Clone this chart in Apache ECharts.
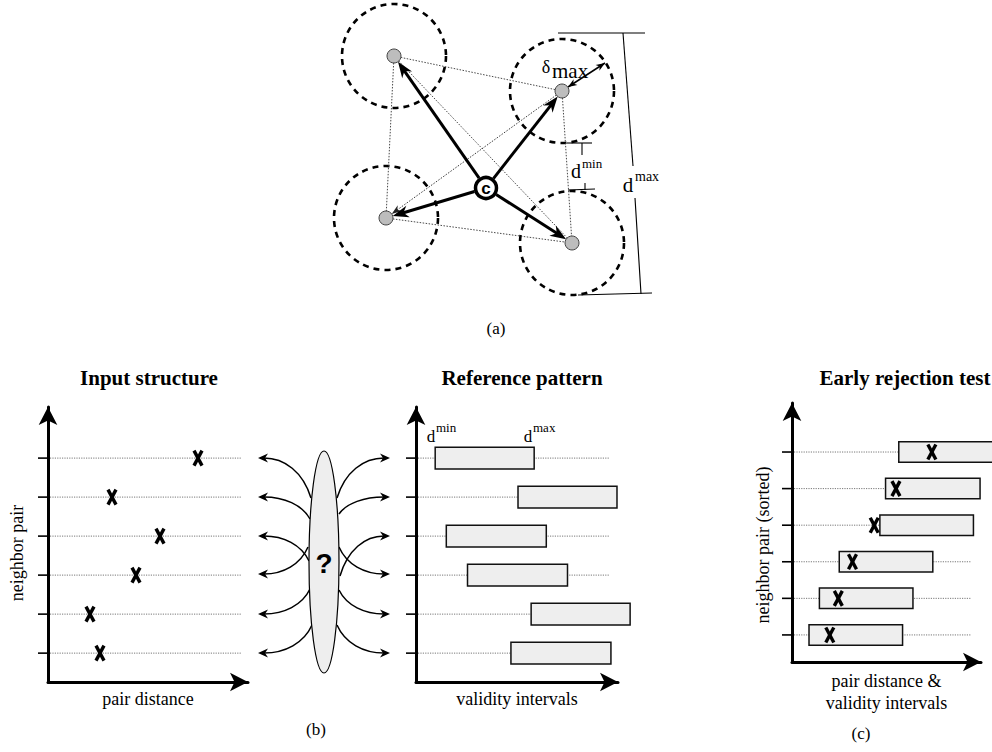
<!DOCTYPE html>
<html>
<head>
<meta charset="utf-8">
<script src="https://cdn.jsdelivr.net/npm/echarts@6/dist/echarts.min.js"></script>
<style>
  html, body { margin: 0; background: #fff; }
  #main { width: 992px; height: 752px; }
</style>
</head>
<body>
<div id="main"></div>
<script>
// (a) neighbourhood of the centre point c (page-pixel units)
const centre = [486, 188];
const neighbours = [[394, 56], [562, 91], [386, 218], [572, 243]];
const toleranceRadius = 52;
const neighbourLinks = [[0, 1], [0, 2], [0, 3], [1, 2], [2, 3], [1, 3]];
const bracketSegments = [
  [558, 33, 645, 33], [623, 33, 633, 166], [635, 198, 641, 294], [578, 295, 652, 293],
  [567, 143, 592, 143], [582, 143, 582, 155], [568, 190, 595, 189], [585, 183, 585, 190]
];
const deltaArrow = [568, 87, 605, 63];

// (b) and (c): neighbour pairs, bottom row first
const pairRows = [1, 2, 3, 4, 5, 6];
const inputDistance = [2.6, 2.1, 4.4, 5.6, 3.2, 7.5];
const refMin = [4.7, 5.7, 2.55, 1.5, 5.05, 0.95];
const refMax = [9.65, 10.6, 7.5, 6.45, 9.95, 5.85];
const sortedMin = [0.9, 1.45, 2.5, 4.65, 4.95, 5.65];
const sortedMax = [5.85, 6.4, 7.45, 9.6, 9.95, 10.65];
const sortedDistance = [2.0, 2.45, 3.2, 4.35, 5.5, 7.4];

// curved arrows round the "?" ellipse: [fromX, fromY, toX, toY]
const leftCurves = [
  [311, 498, 258, 458], [310, 519, 258, 497], [309, 561, 258, 536],
  [308, 547, 258, 574], [310, 589, 258, 614], [312, 625, 258, 653]
];
const rightCurves = [
  [337, 498, 390, 458], [339, 514, 390, 497], [340, 576, 390, 536],
  [339, 547, 390, 574], [339, 590, 390, 614], [337, 625, 390, 653]
];

const SERIF = 'Liberation Serif, Times New Roman, serif';
const SANS = 'Liberation Sans, DejaVu Sans, sans-serif';

const chart = echarts.init(document.getElementById('main'), null, { renderer: 'svg' });

function arrowHead(x1, y1, x2, y2, len, half, color) {
  const a = Math.atan2(y2 - y1, x2 - x1);
  const c = Math.cos(a), s = Math.sin(a);
  const bx = x2 - len * c, by = y2 - len * s;
  const nx = x2 - len * 0.7 * c, ny = y2 - len * 0.7 * s;
  return {
    type: 'polygon',
    shape: { points: [[x2, y2], [bx + half * s, by - half * c], [nx, ny], [bx - half * s, by + half * c]] },
    style: { fill: color }
  };
}

function arrow(x1, y1, x2, y2, len, half, width, color, dash) {
  const a = Math.atan2(y2 - y1, x2 - x1);
  return [
    {
      type: 'line',
      shape: { x1: x1, y1: y1, x2: x2 - len * 0.6 * Math.cos(a), y2: y2 - len * 0.6 * Math.sin(a) },
      style: { stroke: color, lineWidth: width, lineDash: dash || null }
    },
    arrowHead(x1, y1, x2, y2, len, half, color)
  ];
}

function pad(p, q, r) {
  const dx = q[0] - p[0], dy = q[1] - p[1];
  const d = Math.sqrt(dx * dx + dy * dy);
  return [p[0] + dx / d * r, p[1] + dy / d * r];
}

function hiddenAxes(gridIndex, xmin, xmax, ymin, ymax, inverse) {
  return {
    x: { type: 'value', gridIndex: gridIndex, min: xmin, max: xmax, show: false },
    y: { type: 'value', gridIndex: gridIndex, min: ymin, max: ymax, inverse: inverse, show: false }
  };
}

function arrowAxis(gridIndex, max, name, nameGap, vertical) {
  return {
    type: 'value', gridIndex: gridIndex, min: vertical ? 0.26 : 0, max: max,
    axisLine: {
      show: true, onZero: false, symbol: ['none', 'arrow'], symbolSize: [14, 18],
      lineStyle: { color: '#000', width: 3 }
    },
    axisTick: { show: false }, axisLabel: { show: false }, splitLine: { show: false },
    name: name, nameLocation: 'middle', nameGap: nameGap,
    nameTextStyle: { fontFamily: SERIF, fontSize: 18, color: '#000', lineHeight: 22 }
  };
}

function rowGuides(idx, dotEnd) {
  return {
    type: 'custom', xAxisIndex: idx, yAxisIndex: idx, clip: false, z: 1,
    data: pairRows.map(r => [dotEnd, r]),
    renderItem: function (params, api) {
      const p0 = api.coord([0, api.value(1)]);
      const p1 = api.coord([api.value(0), api.value(1)]);
      return {
        type: 'group', children: [
          { type: 'line', shape: { x1: p0[0] - 10, y1: p0[1], x2: p0[0], y2: p0[1] }, style: { stroke: '#000', lineWidth: 1.6 } },
          { type: 'line', shape: { x1: p0[0] + 2, y1: p0[1], x2: p1[0], y2: p1[1] }, style: { stroke: '#555', lineWidth: 0.8, lineDash: [1.2, 1.2] } }
        ]
      };
    }
  };
}

function intervalBars(idx, mins, maxs) {
  return {
    type: 'custom', xAxisIndex: idx, yAxisIndex: idx, clip: false, z: 2,
    data: pairRows.map((r, i) => [mins[i], maxs[i], r]),
    renderItem: function (params, api) {
      const a = api.coord([api.value(0), api.value(2)]);
      const b = api.coord([api.value(1), api.value(2)]);
      const h = api.size([0, 0.56])[1];
      return {
        type: 'rect',
        shape: { x: a[0], y: a[1] - h / 2, width: b[0] - a[0], height: h },
        style: { fill: '#eeeeee', stroke: '#111', lineWidth: 1.5 }
      };
    }
  };
}

function crossMarks(idx, dists) {
  return {
    type: 'custom', xAxisIndex: idx, yAxisIndex: idx, clip: false, z: 3,
    data: dists.map((d, i) => [d, pairRows[i]]),
    renderItem: function (params, api) {
      const p = api.coord([api.value(0), api.value(1)]);
      const st = { stroke: '#000', lineWidth: 3.4 };
      return {
        type: 'group', children: [
          { type: 'line', shape: { x1: p[0] - 4, y1: p[1] - 7.5, x2: p[0] + 4, y2: p[1] + 7.5 }, style: st },
          { type: 'line', shape: { x1: p[0] + 4, y1: p[1] - 7.5, x2: p[0] - 4, y2: p[1] + 7.5 }, style: st }
        ]
      };
    }
  };
}

function curveArrows(list) {
  return {
    type: 'custom', xAxisIndex: 4, yAxisIndex: 4, clip: false, z: 1,
    data: list,
    renderItem: function (params, api) {
      const s = api.coord([api.value(0), api.value(1)]);
      const e = api.coord([api.value(2), api.value(3)]);
      const cp1 = [s[0] + (e[0] - s[0]) * 0.15, s[1] + (e[1] - s[1]) * 0.65];
      const cp2 = [s[0] + (e[0] - s[0]) * 0.5, e[1]];
      const end = [e[0] + (e[0] > s[0] ? -6 : 6), e[1]];
      return {
        type: 'group', children: [
          {
            type: 'bezierCurve',
            shape: { x1: s[0], y1: s[1], cpx1: cp1[0], cpy1: cp1[1], cpx2: cp2[0], cpy2: cp2[1], x2: end[0], y2: end[1] },
            style: { stroke: '#000', lineWidth: 1.5, fill: 'none' }
          },
          arrowHead(cp2[0], cp2[1], e[0], e[1], 10, 4.5, '#000')
        ]
      };
    }
  };
}

function label(x, y, text, size, extra) {
  return {
    type: 'text', x: x, y: y,
    style: Object.assign({
      text: text, fontFamily: SERIF, fontSize: size, fill: '#000', align: 'center', verticalAlign: 'middle'
    }, extra || {})
  };
}

const a0 = hiddenAxes(0, 320, 680, 0, 310, true);
const a4 = hiddenAxes(4, 240, 410, 440, 680, true);

const option = {
  animation: false,
  backgroundColor: '#fff',
  grid: [
    { left: 320, top: 0, width: 360, height: 310, outerBoundsMode: 'none' },
    { left: 48, top: 407, width: 200, height: 275, outerBoundsMode: 'none' },
    { left: 416, top: 407, width: 202, height: 275, outerBoundsMode: 'none' },
    { left: 792, top: 403, width: 189, height: 259, outerBoundsMode: 'none' },
    { left: 240, top: 440, width: 170, height: 240, outerBoundsMode: 'none' }
  ],
  xAxis: [
    a0.x,
    arrowAxis(1, 10, 'pair distance', 6, false),
    arrowAxis(2, 10, 'validity intervals', 6, false),
    arrowAxis(3, 10, 'pair distance &\nvalidity intervals', 8, false),
    a4.x
  ],
  yAxis: [
    a0.y,
    arrowAxis(1, 7.31, '', 22, true),
    arrowAxis(2, 7.31, '', 22, true),
    arrowAxis(3, 7.34, '', 20, true),
    a4.y
  ],
  series: [
    // (a) dashed tolerance circles
    {
      type: 'custom', xAxisIndex: 0, yAxisIndex: 0, clip: false, z: 1,
      data: neighbours,
      renderItem: function (params, api) {
        const c = api.coord([api.value(0), api.value(1)]);
        const r = api.size([toleranceRadius, 0])[0];
        return {
          type: 'circle', shape: { cx: c[0], cy: c[1], r: r },
          style: { fill: 'none', stroke: '#000', lineWidth: 2.6, lineDash: [6, 5] }
        };
      }
    },
    // (a) dotted pair links
    {
      type: 'custom', xAxisIndex: 0, yAxisIndex: 0, clip: false, z: 2,
      data: neighbourLinks.map(l => neighbours[l[0]].concat(neighbours[l[1]], [l[0] === 1 && l[1] === 2 ? 1 : 0])),
      renderItem: function (params, api) {
        const p = api.coord([api.value(0), api.value(1)]);
        const q = api.coord([api.value(2), api.value(3)]);
        const s = pad(p, q, 7), e = pad(q, p, 7);
        if (api.value(4)) {
          return { type: 'group', children: arrow(s[0], s[1], e[0], e[1], 10, 3.5, 0.9, '#222', [1.5, 1.5]) };
        }
        return { type: 'line', shape: { x1: s[0], y1: s[1], x2: e[0], y2: e[1] }, style: { stroke: '#333', lineWidth: 0.9, lineDash: [1.5, 1.5] } };
      }
    },
    // (a) spokes from c
    {
      type: 'custom', xAxisIndex: 0, yAxisIndex: 0, clip: false, z: 3,
      data: neighbours,
      renderItem: function (params, api) {
        const c = api.coord(centre);
        const n = api.coord([api.value(0), api.value(1)]);
        const s = pad(c, n, 12), e = pad(n, c, 7);
        return { type: 'group', children: arrow(s[0], s[1], e[0], e[1], 16, 6, 3, '#000') };
      }
    },
    // (a) neighbour points
    {
      type: 'scatter', xAxisIndex: 0, yAxisIndex: 0, z: 4,
      data: neighbours, symbolSize: 14,
      itemStyle: { color: '#bdbdbd', borderColor: '#444', borderWidth: 1, opacity: 1 }
    },
    // (a) centre c
    {
      type: 'custom', xAxisIndex: 0, yAxisIndex: 0, clip: false, z: 5,
      data: [centre],
      renderItem: function (params, api) {
        const c = api.coord([api.value(0), api.value(1)]);
        return {
          type: 'group', children: [
            { type: 'circle', shape: { cx: c[0], cy: c[1], r: 10.5 }, style: { fill: '#fff', stroke: '#000', lineWidth: 3.5 } },
            {
              type: 'text', x: c[0], y: c[1] + 0.5,
              style: { text: 'c', fontFamily: SANS, fontWeight: 'bold', fontSize: 17, fill: '#000', align: 'center', verticalAlign: 'middle' }
            }
          ]
        };
      }
    },
    // (a) d^min / d^max brackets
    {
      type: 'custom', xAxisIndex: 0, yAxisIndex: 0, clip: false, z: 2,
      data: bracketSegments,
      renderItem: function (params, api) {
        const p = api.coord([api.value(0), api.value(1)]);
        const q = api.coord([api.value(2), api.value(3)]);
        return { type: 'line', shape: { x1: p[0], y1: p[1], x2: q[0], y2: q[1] }, style: { stroke: '#000', lineWidth: 1.1 } };
      }
    },
    // (a) delta_max double arrow
    {
      type: 'custom', xAxisIndex: 0, yAxisIndex: 0, clip: false, z: 3,
      data: [deltaArrow],
      renderItem: function (params, api) {
        const p = api.coord([api.value(0), api.value(1)]);
        const q = api.coord([api.value(2), api.value(3)]);
        return {
          type: 'group', children: [
            { type: 'line', shape: { x1: p[0], y1: p[1], x2: q[0], y2: q[1] }, style: { stroke: '#000', lineWidth: 1.5 } },
            arrowHead(q[0], q[1], p[0], p[1], 9, 3.5, '#000'),
            arrowHead(p[0], p[1], q[0], q[1], 9, 3.5, '#000')
          ]
        };
      }
    },
    // (b) input structure
    rowGuides(1, 9.7),
    crossMarks(1, inputDistance),
    // (b) reference pattern
    rowGuides(2, 9.55),
    intervalBars(2, refMin, refMax),
    // (c) early rejection test
    rowGuides(3, 9.5),
    intervalBars(3, sortedMin, sortedMax),
    crossMarks(3, sortedDistance),
    // (b) mapping arrows and the "?" ellipse
    curveArrows(leftCurves),
    curveArrows(rightCurves),
    {
      type: 'custom', xAxisIndex: 4, yAxisIndex: 4, clip: false, z: 5,
      data: [[324, 562]],
      renderItem: function (params, api) {
        const c = api.coord([api.value(0), api.value(1)]);
        const r = api.size([15, 111]);
        return {
          type: 'group', children: [
            { type: 'ellipse', shape: { cx: c[0], cy: c[1], rx: r[0], ry: r[1] }, style: { fill: '#eeeeee', stroke: '#000', lineWidth: 1.2 } },
            {
              type: 'text', x: c[0], y: c[1] + 1,
              style: { text: '?', fontFamily: SANS, fontWeight: 'bold', fontSize: 28, fill: '#000', align: 'center', verticalAlign: 'middle' }
            }
          ]
        };
      }
    }
  ],
  graphic: [
    label(496, 328, '(a)', 17),
    label(149, 378, 'Input structure', 21, { fontWeight: 'bold' }),
    label(522, 378, 'Reference pattern', 21, { fontWeight: 'bold' }),
    label(905, 378, 'Early rejection test', 21, { fontWeight: 'bold' }),
    label(316, 729, '(b)', 17),
    label(861, 733, '(c)', 17),
    Object.assign(label(17, 553, 'neighbor pair', 18), { rotation: Math.PI / 2 }),
    Object.assign(label(763, 545, 'neighbor pair (sorted)', 18), { rotation: Math.PI / 2 }),
    // reference pattern interval ends
    label(431, 436, 'd', 17),
    label(436, 427, 'min', 13, { align: 'left' }),
    label(528, 436, 'd', 17),
    label(533, 427, 'max', 13, { align: 'left' }),
    // (a) labels
    label(628, 185, 'd', 21),
    label(635, 176, 'max', 14, { align: 'left' }),
    label(576, 171, 'd', 20),
    label(582, 163, 'min', 13, { align: 'left' }),
    label(546, 67, 'δ', 18),
    label(552, 71, 'max', 21, { align: 'left' })
  ]
};

chart.setOption(option);
</script>
</body>
</html>
